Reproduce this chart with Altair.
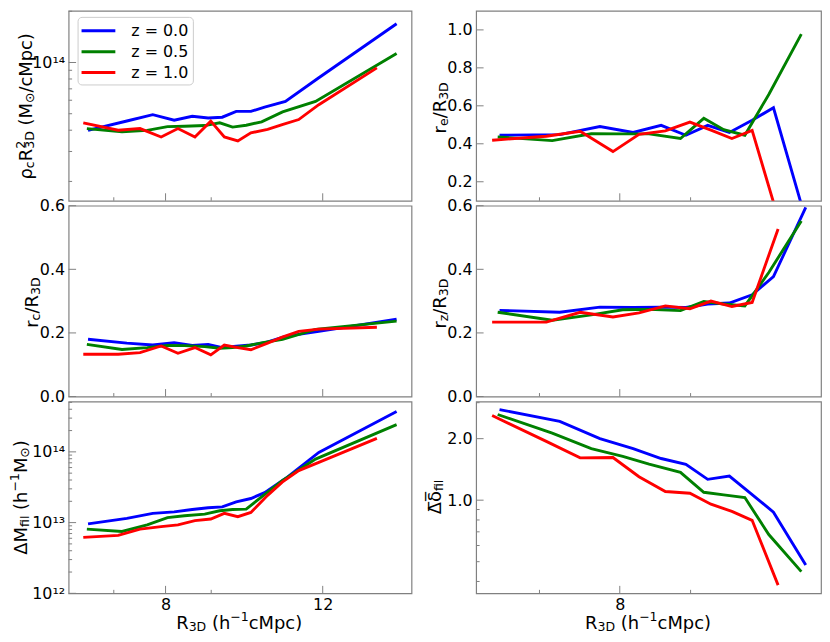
import altair as alt
import pandas as pd

FONT = "DejaVu Sans"
SPINE = "#808080"
LABELS = ["z = 0.0", "z = 0.5", "z = 1.0"]
COLORS = ["#0000ff", "#008000", "#ff0000"]

# ---------------- data ----------------
# R_3D bin positions (h^-1 cMpc) for each redshift
x_z00 = [6.55, 7.24, 7.74, 8.18, 8.57, 8.93, 9.26, 9.60, 9.97, 10.33, 10.90, 11.88, 14.52]
x_z05 = [6.53, 7.15, 7.63, 8.04, 8.40, 8.85, 9.20, 9.51, 9.85, 10.25, 10.82, 11.78, 14.52]
x_z10 = [6.47, 7.08, 7.49, 7.91, 8.26, 8.63, 8.99, 9.31, 9.64, 9.97, 10.41, 10.81, 11.28, 11.88, 13.80]

# rho_c R_3D^2  (units of 1e13 Msun/cMpc)
rho_z00 = [3.99, 4.53, 4.94, 4.58, 4.83, 4.72, 4.77, 5.16, 5.16, 5.47, 5.90, 8.14, 16.9]
rho_z05 = [4.09, 3.92, 3.99, 4.20, 4.22, 4.26, 4.42, 4.17, 4.28, 4.48, 5.12, 5.90, 11.3]
rho_z10 = [4.42, 4.00, 4.09, 3.65, 4.09, 3.65, 4.52, 3.65, 3.46, 3.86, 4.04, 4.32, 4.62, 5.65, 9.30]

# r_c / R_3D
rc_z00 = [0.180, 0.168, 0.162, 0.169, 0.161, 0.164, 0.154, 0.158, 0.162, 0.169, 0.189, 0.205, 0.243]
rc_z05 = [0.164, 0.148, 0.154, 0.161, 0.160, 0.157, 0.152, 0.154, 0.159, 0.169, 0.180, 0.211, 0.237]
rc_z10 = [0.133, 0.133, 0.138, 0.159, 0.136, 0.154, 0.131, 0.162, 0.154, 0.147, 0.168, 0.187, 0.205, 0.212, 0.218]

# Delta M_fil (units of 1e13 h^-1 Msun)
dm_z00 = [0.957, 1.15, 1.35, 1.42, 1.53, 1.62, 1.67, 1.96, 2.19, 2.65, 4.20, 9.80, 37.3]
dm_z05 = [0.807, 0.749, 0.927, 1.175, 1.25, 1.32, 1.47, 1.53, 1.55, 2.31, 3.94, 7.91, 24.3]
dm_z10 = [0.618, 0.659, 0.807, 0.879, 0.927, 1.066, 1.125, 1.35, 1.21, 1.39, 2.43, 3.73, 5.43, 7.10, 15.5]

# r_e / R_3D (first 11 bins)
re_z00 = [0.445, 0.448, 0.491, 0.460, 0.497, 0.445, 0.497, 0.460, 0.524, 0.590, 0.00]
re_z05 = [0.436, 0.417, 0.453, 0.452, 0.452, 0.428, 0.534, 0.474, 0.445, 0.660, 0.978]
re_z10 = [0.419, 0.440, 0.466, 0.359, 0.450, 0.468, 0.514, 0.472, 0.428, 0.471, 0.01]

# r_z / R_3D
rz_z00 = [0.271, 0.265, 0.281, 0.280, 0.281, 0.280, 0.291, 0.294, 0.320, 0.377, 0.595]
rz_z05 = [0.265, 0.240, 0.257, 0.273, 0.274, 0.270, 0.299, 0.291, 0.285, 0.390, 0.552]
rz_z10 = [0.234, 0.234, 0.265, 0.250, 0.263, 0.285, 0.276, 0.300, 0.283, 0.296, 0.527]

# mean Delta delta_fil
dd_z00 = [2.776, 2.428, 2.000, 1.789, 1.599, 1.496, 1.265, 1.313, 1.065, 0.874, 0.482]
dd_z05 = [2.626, 2.131, 1.789, 1.640, 1.500, 1.368, 1.093, 1.061, 1.030, 0.679, 0.447]
dd_z10 = [2.596, 1.941, 1.611, 1.618, 1.303, 1.102, 1.081, 0.956, 0.881, 0.797, 0.384]

# tick values
xmaj_left, xmin_left = [8, 12], [7, 9]
xmaj_right, xmin_right = [8], [7, 9]
y_lin = [0.0, 0.2, 0.4, 0.6]
y_re = [0.2, 0.4, 0.6, 0.8, 1.0]
y_rho_maj = [1e14]
y_rho_min = [2e13, 3e13, 4e13, 5e13, 6e13, 7e13, 8e13, 9e13, 2e14]
y_dm_maj = [1e12, 1e13, 1e14]
y_dm_min = [2e12, 3e12, 4e12, 5e12, 6e12, 7e12, 8e12, 9e12,
            2e13, 3e13, 4e13, 5e13, 6e13, 7e13, 8e13, 9e13,
            2e14, 3e14, 4e14, 5e14]
y_dd_maj = [1.0, 2.0]
y_dd_min = [0.4, 0.5, 0.6, 0.7, 0.8, 0.9, 3.0]


def table(xs_list, ys_list, scale=1.0):
    rows = []
    for lab, xs, ys in zip(LABELS, xs_list, ys_list):
        for xv, yv in zip(xs, ys):
            rows.append({"x": xv, "y": yv * scale, "series": lab})
    return pd.DataFrame(rows)


XS = [x_z00, x_z05, x_z10]
df_rho = table(XS, [rho_z00, rho_z05, rho_z10], 1e13)
df_rc = table(XS, [rc_z00, rc_z05, rc_z10])
df_dm = table(XS, [dm_z00, dm_z05, dm_z10], 1e13)
df_re = table(XS, [re_z00, re_z05, re_z10])
df_rz = table(XS, [rz_z00, rz_z05, rz_z10])
df_dd = table(XS, [dd_z00, dd_z05, dd_z10])

# ---------------- rich-text titles ----------------
W = {' ': 0.318, '(': 0.390, ')': 0.390, '/': 0.337, '.': 0.318, '\u2212': 0.838,
     'D': 0.770, 'M': 0.863, 'R': 0.695, 'c': 0.550, 'e': 0.615, 'f': 0.352,
     'h': 0.634, 'i': 0.278, 'l': 0.278, 'p': 0.635, 'r': 0.411, 'z': 0.525,
     '\u03c1': 0.635, '\u0394': 0.684, '\u03b4': 0.612, '\u2299': 0.838, '\u0305': 0.0}
for d in "0123456789":
    W[d] = 0.636

FS, SFS, SUB, SUP = 18, 12.6, 2.0, -7.5


def tw(s, fs):
    return fs * sum(W.get(ch, 0.6) for ch in s)


def rich(parts):
    segs, pos = [], 0.0
    for p in parts:
        k = p[0]
        fs = FS if k == "n" else SFS
        shift = {"n": 0.0, "sub": SUB, "sup": SUP}.get(k, 0.0)
        t = p[1]
        lead = len(t) - len(t.lstrip(" "))
        pos += tw(" " * lead, fs)
        t = t.lstrip(" ")
        if k == "ss":
            segs.append((t, pos, SUP, SFS))
            segs.append((p[2], pos, SUB, SFS))
            pos += max(tw(t, SFS), tw(p[2], SFS))
        else:
            segs.append((t, pos, shift, fs))
            pos += tw(t, fs)
    return segs, pos


def text_mark(t, x, y, fs, angle):
    return alt.Chart(alt.Data(values=[{}])).mark_text(
        font=FONT, fontSize=fs, angle=angle, align="left", baseline="alphabetic", color="black"
    ).encode(x=alt.value(x), y=alt.value(y), text=alt.value(t))


def ytitle(parts, base_x, cy):
    segs, total = rich(parts)
    y0 = cy + total / 2
    return [text_mark(t, base_x + perp, y0 - a, fs, 270) for t, a, perp, fs in segs]


def xtitle(parts, cx, base_y):
    segs, total = rich(parts)
    x0 = cx - total / 2
    return [text_mark(t, x0 + a, base_y + perp, fs, 0) for t, a, perp, fs in segs]


T_RHO = [("n", "\u03c1"), ("sub", "c"), ("n", "R"), ("ss", "2", "3D"), ("n", " (M"), ("sub", "\u2299"), ("n", "/cMpc)")]
T_RC = [("n", "r"), ("sub", "c"), ("n", "/R"), ("sub", "3D")]
T_DM = [("n", "\u0394M"), ("sub", "fil"), ("n", " (h"), ("sup", "\u22121"), ("n", "M"), ("sub", "\u2299"), ("n", ")")]
T_RE = [("n", "r"), ("sub", "e"), ("n", "/R"), ("sub", "3D")]
T_RZ = [("n", "r"), ("sub", "z"), ("n", "/R"), ("sub", "3D")]
T_DD = [("n", "\u0394\u0305\u03b4\u0305"), ("sub", "fil")]
T_X = [("n", "R"), ("sub", "3D"), ("n", " (h"), ("sup", "\u22121"), ("n", "cMpc)")]

# ---------------- panels ----------------
WL, WR = 345, 347
H = [191, 192, 193]
XDOM_L, XDOM_R = [6.23, 15.09], [6.30, 11.18]


def panel(df, w, h, xdom, ydom, ylog, xmaj, xmin, ymaj, ymin, yaxis_kw, show_x, titles, legend=None):
    xs = alt.Scale(type="log", domain=xdom, nice=False)
    if ylog:
        ys = alt.Scale(type="log", domain=ydom, nice=False)
    else:
        ys = alt.Scale(domain=ydom, nice=False, zero=False)
    xaxis = alt.Axis(values=xmaj, title=None, format="d", labelPadding=3) if show_x else None
    yaxis = alt.Axis(title=None, labelPadding=4, **yaxis_kw)
    xe = alt.X("x:Q", scale=xs, axis=xaxis)
    ye = alt.Y("y:Q", scale=ys, axis=yaxis)
    color = alt.Color("series:N", scale=alt.Scale(domain=LABELS, range=COLORS), legend=legend)
    layers = [alt.Chart(df).mark_line(strokeWidth=2.9, clip=True).encode(x=xe, y=ye, color=color)]
    for vals, L in ((xmaj, 7.5), (xmin, 3.5)):
        if vals:
            layers.append(alt.Chart(pd.DataFrame({"x": vals})).mark_rule(color=SPINE, strokeWidth=1)
                          .encode(x=xe, y=alt.value(h), y2=alt.value(h - L)))
    for vals, L in ((ymaj, 7.5), (ymin, 3.5)):
        if vals:
            layers.append(alt.Chart(pd.DataFrame({"y": vals})).mark_rule(color=SPINE, strokeWidth=1)
                          .encode(y=ye, x=alt.value(0), x2=alt.value(L)))
    layers += titles
    return alt.layer(*layers).properties(width=w, height=h)


legend = alt.Legend(orient="none", legendX=9, legendY=6, title=None,
                    symbolType="M-2,0L2,0", symbolSize=289, symbolStrokeWidth=3,
                    symbolOffset=7, labelOffset=23, labelFont=FONT, labelFontSize=16,
                    labelColor="black", rowPadding=3, padding=4,
                    strokeColor="#cccccc", fillColor="white", cornerRadius=4)

exp_rho = "'10\u00b9\u2074'"
exp_dm = "datum.value > 5e13 ? '10\u00b9\u2074' : (datum.value > 5e12 ? '10\u00b9\u00b3' : '10\u00b9\u00b2')"

p_tl = panel(df_rho, WL, H[0], XDOM_L, [1.54e13, 2.01e14], True, xmaj_left, xmin_left,
             y_rho_maj, y_rho_min, {"values": y_rho_maj, "labelExpr": exp_rho}, False,
             ytitle(T_RHO, -36.5, H[0] / 2 + 0.5), legend)
p_tr = panel(df_re, WR, H[0], XDOM_R, [0.10, 1.10], False, xmaj_right, xmin_right,
             y_re, [], {"values": y_re, "format": ".1f"}, False,
             ytitle(T_RE, -30.5, H[0] / 2 + 2))
p_ml = panel(df_rc, WL, H[1], XDOM_L, [0.0, 0.6], False, xmaj_left, xmin_left,
             y_lin, [], {"values": y_lin, "format": ".1f"}, False,
             ytitle(T_RC, -30.5, H[1] / 2 + 1.5))
p_mr = panel(df_rz, WR, H[1], XDOM_R, [0.0, 0.6], False, xmaj_right, xmin_right,
             y_lin, [], {"values": y_lin, "format": ".1f"}, False,
             ytitle(T_RZ, -30.5, H[1] / 2 + 2.5))
p_bl = panel(df_dm, WL, H[2], XDOM_L, [1e12, 5.15e14], True, xmaj_left, xmin_left,
             y_dm_maj, y_dm_min, {"values": y_dm_maj, "labelExpr": exp_dm}, True,
             ytitle(T_DM, -42, H[2] / 2) + xtitle(T_X, 171.6, 228.5))
p_br = panel(df_dd, WR, H[2], XDOM_R, [0.35, 3.04], True, xmaj_right, xmin_right,
             y_dd_maj, y_dd_min, {"values": y_dd_maj, "format": ".1f"}, True,
             ytitle(T_DD, -35, H[2] / 2 - 0.5) + xtitle(T_X, 173, 228.5))

chart = alt.concat(
    p_tl, p_tr, p_ml, p_mr, p_bl, p_br,
    columns=2, spacing={"row": 5, "column": 65}, bounds="flush", align="each"
).resolve_scale(
    x="independent", y="independent", color="independent"
).resolve_axis(
    x="independent", y="independent"
).resolve_legend(
    color="independent"
).properties(
    padding={"left": 0, "top": 0, "right": 0, "bottom": 0}
).configure_view(
    stroke=SPINE, strokeWidth=1.2
).configure_axis(
    labelFont=FONT, labelFontSize=16, labelColor="black", grid=False, ticks=False, domain=False
)

chart.save("out.html", embed_options={"renderer": "svg", "actions": False})
